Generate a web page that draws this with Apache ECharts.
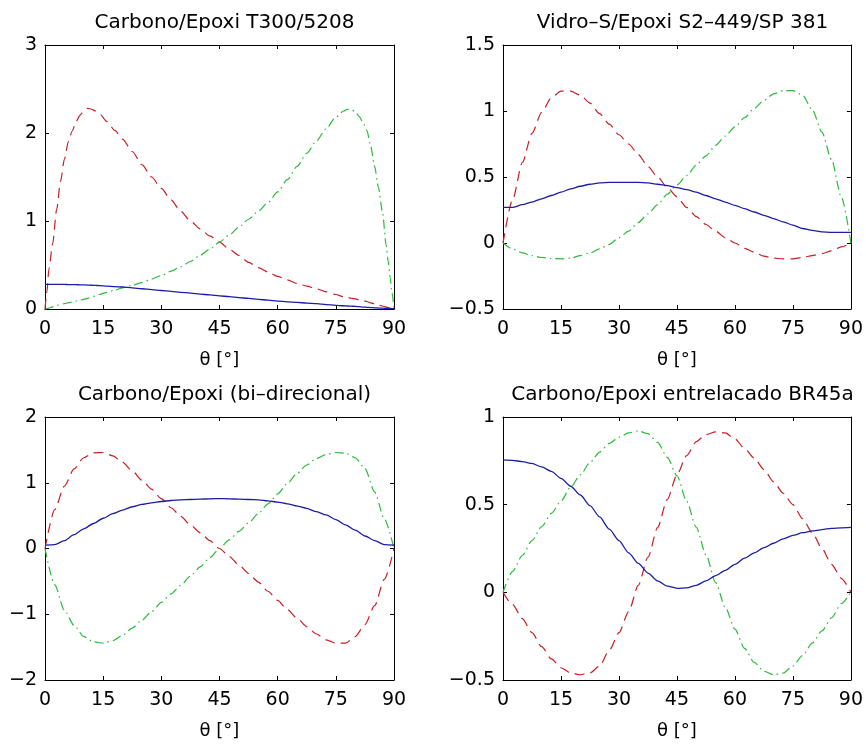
<!DOCTYPE html>
<html><head><meta charset="utf-8">
<script src="https://cdn.jsdelivr.net/npm/echarts@6/dist/echarts.min.js"></script>
<style>html,body{margin:0;padding:0;background:#fff}#c{width:866px;height:744px}</style>
</head><body><div id="c"></div>
<script>
// ---------- data ----------
const titles = ['Carbono/Epoxi T300/5208', 'Vidro–S/Epoxi S2–449/SP 381', 'Carbono/Epoxi (bi–direcional)', 'Carbono/Epoxi entrelacado BR45a'];
const xLabel = 'θ [°]';
const xTicks = [0, 90, 15];               // min, max, step
const yRanges = [[0, 3, 1], [-0.5, 1.5, 0.5], [-2, 2, 1], [-0.5, 1, 0.5]];

// panel 1 (finer sampling near the ends)
const theta1 = [0,0.5,1,2,3,4,5,6,7,8,9,10,11,12,13,14,16,18,20,22.5,25,27.5,30,32.5,35,37.5,40,42.5,45,47.5,50,52.5,55,57.5,60,62.5,65,67.5,70,72.5,75,77,78,79,80,81,82,83,84,85,86,87,88,88.5,89,89.5,90];
const p1Red = [0,0.2,0.45,0.75,1.13,1.45,1.70,1.90,2.02,2.13,2.20,2.25,2.28,2.27,2.25,2.22,2.13,2.03,1.93,1.79,1.64,1.50,1.37,1.24,1.11,1.00,0.91,0.83,0.76,0.68,0.61,0.53,0.47,0.42,0.37,0.33,0.29,0.26,0.23,0.195,0.165,0.14,0.13,0.122,0.115,0.105,0.095,0.085,0.07,0.057,0.046,0.034,0.022,0.016,0.01,0.005,0];
const p1Green = [0,0.005,0.01,0.025,0.04,0.05,0.06,0.07,0.08,0.09,0.10,0.11,0.12,0.135,0.15,0.165,0.19,0.215,0.24,0.27,0.30,0.34,0.38,0.43,0.48,0.54,0.61,0.68,0.76,0.84,0.93,1.02,1.11,1.21,1.33,1.47,1.62,1.77,1.91,2.05,2.18,2.25,2.27,2.27,2.24,2.19,2.12,2.03,1.85,1.62,1.38,1.11,0.72,0.54,0.36,0.18,0];
const p1Blue = [0.28,0.28,0.28,0.28,0.28,0.28,0.279,0.278,0.277,0.276,0.275,0.274,0.272,0.27,0.268,0.266,0.26,0.255,0.25,0.24,0.23,0.22,0.21,0.20,0.19,0.18,0.17,0.16,0.15,0.14,0.13,0.12,0.11,0.10,0.09,0.082,0.075,0.067,0.06,0.05,0.042,0.037,0.034,0.032,0.03,0.026,0.022,0.019,0.016,0.013,0.011,0.009,0.007,0.006,0.006,0.005,0.005];

// panels 2-4
const theta = [0,2.5,5,7.5,10,12.5,15,17.5,20,22.5,25,27.5,30,32.5,35,37.5,40,42.5,45,47.5,50,52.5,55,57.5,60,62.5,65,67.5,70,72.5,75,77.5,80,82.5,85,87.5,90];
const p2Red = [0,0.33,0.61,0.83,0.99,1.10,1.15,1.15,1.12,1.06,0.98,0.90,0.82,0.75,0.67,0.58,0.50,0.42,0.35,0.27,0.20,0.14,0.09,0.04,0.0,-0.04,-0.07,-0.10,-0.115,-0.12,-0.12,-0.11,-0.095,-0.08,-0.06,-0.03,0.0];
const p2Green = [0,-0.045,-0.075,-0.095,-0.11,-0.118,-0.12,-0.115,-0.095,-0.075,-0.045,-0.01,0.04,0.09,0.155,0.22,0.29,0.37,0.44,0.51,0.59,0.66,0.74,0.81,0.88,0.95,1.02,1.08,1.13,1.155,1.155,1.12,1.01,0.84,0.63,0.35,0.0];
const p2Blue = [0.27,0.27,0.29,0.31,0.335,0.36,0.385,0.41,0.43,0.445,0.455,0.46,0.46,0.46,0.46,0.455,0.445,0.435,0.42,0.405,0.385,0.36,0.335,0.31,0.285,0.26,0.235,0.21,0.185,0.16,0.135,0.11,0.095,0.085,0.08,0.08,0.08];
const p3Red = [0,0.59,0.95,1.21,1.38,1.455,1.46,1.41,1.31,1.18,1.04,0.90,0.76,0.62,0.49,0.36,0.24,0.12,0.0,-0.12,-0.25,-0.38,-0.51,-0.65,-0.79,-0.93,-1.06,-1.19,-1.30,-1.39,-1.44,-1.44,-1.34,-1.16,-0.87,-0.47,0];
const p3Green = [0,-0.55,-0.94,-1.17,-1.34,-1.42,-1.44,-1.40,-1.32,-1.21,-1.09,-0.96,-0.82,-0.69,-0.56,-0.42,-0.28,-0.14,0.0,0.13,0.26,0.39,0.53,0.68,0.83,0.99,1.14,1.27,1.37,1.43,1.46,1.45,1.38,1.22,0.86,0.45,0];
const p3Blue = [0.05,0.06,0.12,0.21,0.30,0.38,0.46,0.53,0.585,0.635,0.67,0.695,0.715,0.73,0.74,0.745,0.75,0.755,0.76,0.755,0.75,0.745,0.74,0.725,0.705,0.68,0.645,0.61,0.56,0.51,0.44,0.36,0.28,0.19,0.12,0.06,0.05];
const p4Red = [0,-0.07,-0.15,-0.23,-0.31,-0.38,-0.43,-0.46,-0.47,-0.46,-0.42,-0.33,-0.23,-0.11,0.04,0.20,0.37,0.53,0.67,0.78,0.86,0.90,0.915,0.91,0.875,0.82,0.765,0.70,0.63,0.565,0.50,0.42,0.34,0.25,0.16,0.08,0];
const p4Green = [0,0.12,0.21,0.295,0.375,0.45,0.52,0.60,0.67,0.74,0.80,0.85,0.885,0.91,0.92,0.905,0.855,0.77,0.665,0.52,0.37,0.215,0.055,-0.085,-0.21,-0.32,-0.40,-0.45,-0.47,-0.46,-0.42,-0.36,-0.29,-0.22,-0.145,-0.065,0];
const p4Blue = [0.755,0.753,0.745,0.735,0.715,0.69,0.65,0.605,0.555,0.495,0.43,0.36,0.295,0.225,0.165,0.11,0.065,0.035,0.023,0.025,0.04,0.065,0.095,0.125,0.16,0.195,0.225,0.255,0.28,0.305,0.325,0.34,0.35,0.358,0.365,0.368,0.37];

const panels = [
  {x: theta1, red: p1Red, green: p1Green, blue: p1Blue},
  {x: theta, red: p2Red, green: p2Green, blue: p2Blue},
  {x: theta, red: p3Red, green: p3Green, blue: p3Blue},
  {x: theta, red: p4Red, green: p4Green, blue: p4Blue}
];

// ---------- layout ----------
const grids = [
  {left: 45, top: 45, width: 349, height: 264},
  {left: 503, top: 45, width: 349, height: 264},
  {left: 45, top: 417, width: 349, height: 263},
  {left: 503, top: 417, width: 349, height: 263}
];
const titleTops = [8, 8, 380, 380];
const FONT = 'DejaVu Sans';
const COLORS = {red: '#c81e24', green: '#2cba3a', blue: '#1c1ca8'};

const zip = (xs, ys) => xs.map((x, i) => [x, ys[i]]);
const fmt = v => String(+v.toFixed(4)).replace('-', '\u2212');

const option = {animation: false, backgroundColor: '#fff', title: [], grid: [], xAxis: [], yAxis: [], series: []};

grids.forEach((g, i) => {
  option.grid.push(Object.assign({containLabel: false}, g));
  option.title.push({
    text: titles[i], left: g.left + g.width / 2, top: titleTops[i], textAlign: 'center',
    textStyle: {fontFamily: FONT, fontSize: 20, fontWeight: 'normal', color: '#000'}
  });
  const axisLine = {show: true, onZero: false, lineStyle: {color: '#000', width: 1}};
  const axisTick = {show: true, inside: true, length: 4, lineStyle: {color: '#000', width: 1}};
  option.xAxis.push({
    gridIndex: i, type: 'value', position: 'bottom', min: xTicks[0], max: xTicks[1], interval: xTicks[2],
    axisLine, axisTick, splitLine: {show: false},
    axisLabel: {fontFamily: FONT, fontSize: 19, color: '#000', margin: 11, showMinLabel: true, showMaxLabel: true, formatter: fmt},
    name: xLabel, nameLocation: 'middle', nameGap: 42,
    nameTextStyle: {fontFamily: FONT, fontSize: 18, color: '#000'}
  });
  option.xAxis.push({
    gridIndex: i, type: 'value', position: 'top', min: xTicks[0], max: xTicks[1], interval: xTicks[2],
    axisLine, axisTick, splitLine: {show: false}, axisLabel: {show: false}
  });
  const r = yRanges[i];
  option.yAxis.push({
    gridIndex: i, type: 'value', position: 'left', min: r[0], max: r[1], interval: r[2],
    axisLine, axisTick, splitLine: {show: false},
    axisLabel: {fontFamily: FONT, fontSize: 19, color: '#000', margin: 8, showMinLabel: true, showMaxLabel: true, formatter: fmt}
  });
  option.yAxis.push({
    gridIndex: i, type: 'value', position: 'right', min: r[0], max: r[1], interval: r[2],
    axisLine, axisTick, splitLine: {show: false}, axisLabel: {show: false}
  });
  const p = panels[i];
  const common = {type: 'line', xAxisIndex: 2 * i, yAxisIndex: 2 * i, showSymbol: false, symbol: 'none', smooth: 0.25, smoothMonotone: 'x', silent: true};
  option.series.push(Object.assign({}, common, {name: 'red' + i, data: zip(p.x, p.red), lineStyle: {color: COLORS.red, width: 1.2, type: [10, 6]}}));
  option.series.push(Object.assign({}, common, {name: 'green' + i, data: zip(p.x, p.green), lineStyle: {color: COLORS.green, width: 1.2, type: [9, 4, 1.5, 4]}}));
  option.series.push(Object.assign({}, common, {name: 'blue' + i, data: zip(p.x, p.blue), lineStyle: {color: COLORS.blue, width: 1.3, type: 'solid'}}));
});

const chart = echarts.init(document.getElementById('c'), null, {renderer: 'canvas'});
chart.setOption(option);
</script>
</body></html>
